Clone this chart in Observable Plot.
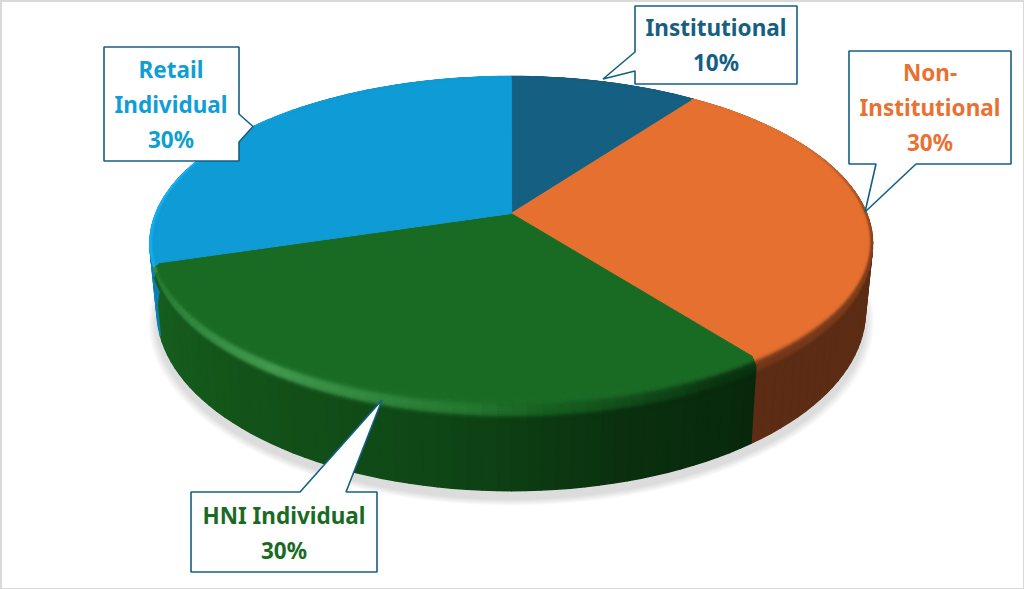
<!DOCTYPE html>
<html>
<head>
<meta charset="utf-8">
<script src="https://cdn.jsdelivr.net/npm/d3@7"></script>
<script src="https://cdn.jsdelivr.net/npm/@observablehq/plot@0.6"></script>
<style>html,body{margin:0;padding:0;background:#fff;overflow:hidden}svg{display:block}</style>
</head>
<body>
<div id="chart"></div>
<script>
// Data
const categories = ["Institutional", "Non-Institutional", "HNI Individual", "Retail Individual"];
const values = [10, 30, 30, 30];
const percentLabels = ["10%", "30%", "30%", "30%"];

// Styles
const topColors = ["#156082", "#e6702f", "#196b24", "#0f9bd5"];
const textColors = ["#156082", "#e97132", "#196b24", "#0f9ed5"];
const highlightColors = ["#156082", "#e6702f", "#6cc97a", "#18b8ff"];
const borderColor = "#156082";

// Pie camera (perspective of a tilted disc)
const cx = 511.2, cy = 213.5, R = 355.5, S = 161.7, k = 0.18, depth = 65.6, baseScale = 0.98;
const project = (deg, r, t) => {
  const a = deg * Math.PI / 180, u = r * Math.sin(a), v = r * Math.cos(a), d = 1 + k * v;
  const sx = 1 - (1 - baseScale) * Math.max(0, t);
  return [cx + R * u / d * sx, cy - S * v / d + t * depth / d];
};
// Point f of the way inward across the bevel on the top face
const bevel = (deg, f) => project(deg, 1 - 0.015 * f, -0.13 * f * Math.max(0, -Math.cos(deg * Math.PI / 180)));

const pieAngles = d3.pie().sort(null).startAngle(0).endAngle(2 * Math.PI)(values)
  .map(d => [d.startAngle * 180 / Math.PI, d.endAngle * 180 / Math.PI]);

const sideScales = [
  d3.scaleLinear().domain([0, 360]).range(["#0e3c50", "#0e3c50"]),
  d3.scaleLinear().domain([0, 360]).range(["#5c2c14", "#5c2c14"]),
  d3.scaleLinear().domain([144, 165, 190, 220, 252]).range(["#08280c", "#0a300f", "#0f4716", "#135319", "#175f1f"]),
  d3.scaleLinear().domain([252, 360]).range(["#0c7fb0", "#0c7fb0"])
];
const darkWeight = d3.scaleLinear().domain([0, 60, 100, 150, 185, 360]).range([0, 0, 0.7, 0.85, 0, 0]).clamp(true);
const lightWeight = d3.scaleLinear().domain([175, 215, 250, 252, 285, 325]).range([0, 0.5, 0.12, 0.6, 0.8, 0]).clamp(true);

const rimColor = (i, deg) => {
  const base = topColors[i], side = sideScales[i](deg);
  const lit = d3.interpolateRgb(base, highlightColors[i])(lightWeight(deg));
  return d3.interpolateRgb(lit, side)(darkWeight(deg));
};

const step = 2;
const anglesIn = ([a, b]) => { const n = Math.max(1, Math.ceil((b - a) / step)); return d3.range(n + 1).map(j => a + (b - a) * j / n); };

const columnRows = [], sideRows = [], rimRows = [], faceRows = [], shadowRows = [];
let gid = 0;
const quad = (rows, pts, c) => { gid++; pts.forEach(p => rows.push({g: gid, x: p[0], y: p[1], c})); };

const bandCount = 10, sideFade = 0.15;
const bands = d3.range(bandCount);
pieAngles.forEach((span, i) => {
  const as = anglesIn(span);
  quad(faceRows, [[cx, cy], ...as.map(a => bevel(a, 1))], topColors[i]);
  d3.pairs(as).forEach(([a0, a1]) => {
    const m = (a0 + a1) / 2, side = sideScales[i](m), rc = rimColor(i, m);
    quad(columnRows, [project(a0, 1, 0), project(a1, 1, 0), project(a1, 1, 1), project(a0, 1, 1)], side);
    bands.forEach(q => {
      const t0 = sideFade * q / bandCount, t1 = sideFade * (q + 1) / bandCount;
      const c = d3.interpolateRgb(rc, side)(d3.easeCubicInOut((q + 0.5) / bandCount));
      quad(sideRows, [project(a0, 1, t0), project(a1, 1, t0), project(a1, 1, t1), project(a0, 1, t1)], c);
      const f0 = (q + 1) / bandCount, f1 = q / bandCount;
      const rcTop = d3.interpolateRgb(rc, topColors[i])(d3.easeCubicInOut((q + 0.5) / bandCount));
      quad(rimRows, [bevel(a0, f0), bevel(a1, f0), bevel(a1, f1), bevel(a0, f1)], rcTop);
    });
  });
});

// Soft shadow under the pie
d3.range(7).forEach(l => {
  gid++;
  const grow = 1.004 + l * 0.0035, g = gid;
  d3.range(0, 361, 4).forEach(a => {
    const p = project(a, 1, 1);
    shadowRows.push({g, x: cx + (p[0] - cx) * grow, y: cy + 8 + (p[1] - cy) * grow});
  });
});

// Callouts: box [left, top, right, bottom], pointer [start, tip, end]
const callouts = [
  {i: 0, box: [635, 6, 797, 84], pointer: [[635, 52], [603, 79], [635, 71]], side: "left", tx: 716, ty: [29, 64], lines: ["Institutional"]},
  {i: 1, box: [849, 51, 1011, 164], pointer: [[916, 164], [865, 212], [876, 164]], side: "bottom", tx: 930, ty: [74, 109, 144], lines: ["Non-", "Institutional"]},
  {i: 2, box: [191, 492, 377, 572], pointer: [[300, 492], [382, 400], [346, 492]], side: "top", tx: 284, ty: [517, 552], lines: ["HNI Individual"]},
  {i: 3, box: [104, 47, 239, 161], pointer: [[239, 114], [253, 126.5], [239, 142]], side: "right", tx: 171, ty: [71, 106, 141], lines: ["Retail", "Individual"]}
];
const calloutRows = [], textRows = [];
callouts.forEach(c => {
  const [l, t, r, b] = c.box, p = c.pointer;
  const pts = c.side === "left" ? [[l, t], [r, t], [r, b], [l, b], p[2], p[1], p[0]]
    : c.side === "right" ? [[l, t], [r, t], p[0], p[1], p[2], [r, b], [l, b]]
    : c.side === "top" ? [[l, t], p[0], p[1], p[2], [r, t], [r, b], [l, b]]
    : [[l, t], [r, t], [r, b], p[0], p[1], p[2], [l, b]];
  pts.forEach(q => calloutRows.push({g: categories[c.i], x: q[0], y: q[1]}));
  [...c.lines, percentLabels[c.i]].forEach((s, j) => textRows.push({x: c.tx, y: c.ty[j], s, c: textColors[c.i]}));
});

const polygons = (rows, strokeWidth) => Plot.line(rows, {x: "x", y: "y", z: "g", fill: "c", stroke: "c", strokeWidth, curve: "linear-closed"});

const plot = Plot.plot({
  width: 1024, height: 589,
  margin: 0,
  x: {domain: [0.5, 1024.5], range: [0, 1024], axis: null},
  y: {domain: [0.5, 589.5], range: [0, 589], axis: null},
  color: {type: "identity"},
  style: {background: "#fff"},
  marks: [
    Plot.frame({stroke: "#d9d9d9", strokeWidth: 3}),
    Plot.line(shadowRows, {x: "x", y: "y", z: "g", fill: "#000", fillOpacity: 0.018, stroke: "none", curve: "linear-closed"}),
    polygons(columnRows, 1.4),
    polygons(sideRows, 1),
    polygons(faceRows, 1),
    polygons(rimRows, 1),
    Plot.line(calloutRows, {x: "x", y: "y", z: "g", fill: "#fff", stroke: borderColor, strokeWidth: 1.6, curve: "linear-closed", strokeLinejoin: "miter"}),
    Plot.text(textRows, {x: "x", y: "y", text: "s", fill: "c", fontSize: 22.5, fontWeight: 700, fontFamily: "'Noto Sans', sans-serif", textAnchor: "middle", lineAnchor: "middle"})
  ]
});
document.getElementById("chart").append(plot);
</script>
</body>
</html>
